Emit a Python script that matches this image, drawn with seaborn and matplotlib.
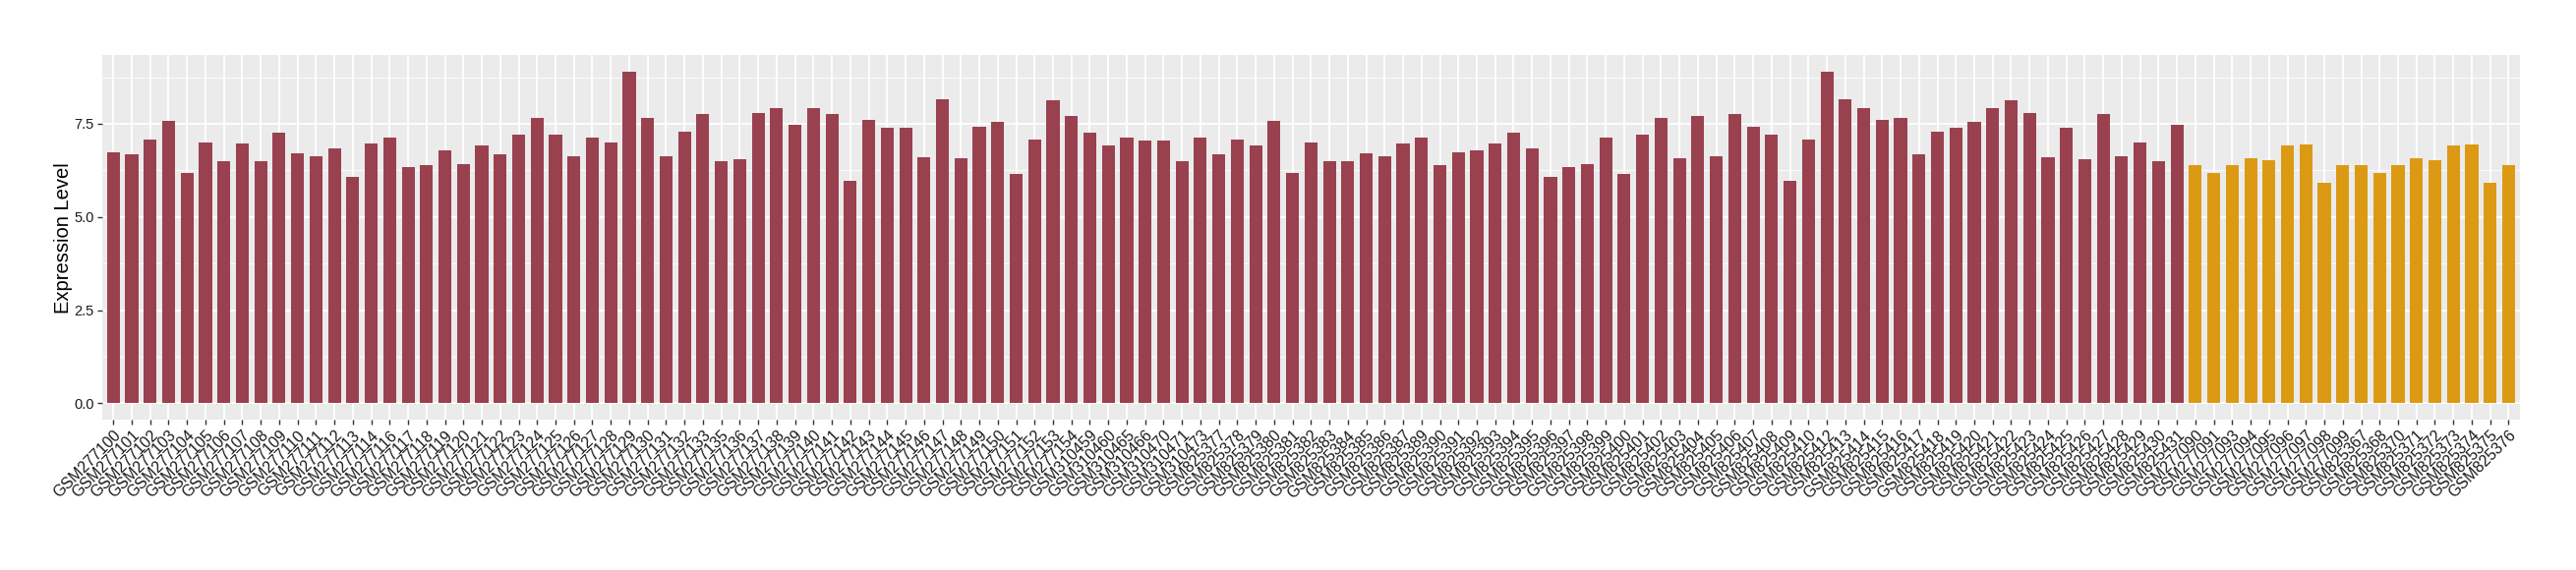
import pandas as pd
import matplotlib
matplotlib.use("Agg")
import matplotlib.pyplot as plt
from matplotlib.ticker import MultipleLocator, FormatStrFormatter
import seaborn as sns

# sample ids, in plotting order
samples = [
    "GSM277100", "GSM277101", "GSM277102", "GSM277103", "GSM277104", "GSM277105",
    "GSM277106", "GSM277107", "GSM277108", "GSM277109", "GSM277110", "GSM277111",
    "GSM277112", "GSM277113", "GSM277114", "GSM277116", "GSM277117", "GSM277118",
    "GSM277119", "GSM277120", "GSM277121", "GSM277122", "GSM277123", "GSM277124",
    "GSM277125", "GSM277126", "GSM277127", "GSM277128", "GSM277129", "GSM277130",
    "GSM277131", "GSM277132", "GSM277133", "GSM277135", "GSM277136", "GSM277137",
    "GSM277138", "GSM277139", "GSM277140", "GSM277141", "GSM277142", "GSM277143",
    "GSM277144", "GSM277145", "GSM277146", "GSM277147", "GSM277148", "GSM277149",
    "GSM277150", "GSM277151", "GSM277152", "GSM277153", "GSM277154", "GSM310459",
    "GSM310460", "GSM310465", "GSM310466", "GSM310470", "GSM310471", "GSM310473",
    "GSM825377", "GSM825378", "GSM825379", "GSM825380", "GSM825381", "GSM825382",
    "GSM825383", "GSM825384", "GSM825385", "GSM825386", "GSM825387", "GSM825389",
    "GSM825390", "GSM825391", "GSM825392", "GSM825393", "GSM825394", "GSM825395",
    "GSM825396", "GSM825397", "GSM825398", "GSM825399", "GSM825400", "GSM825401",
    "GSM825402", "GSM825403", "GSM825404", "GSM825405", "GSM825406", "GSM825407",
    "GSM825408", "GSM825409", "GSM825410", "GSM825412", "GSM825413", "GSM825414",
    "GSM825415", "GSM825416", "GSM825417", "GSM825418", "GSM825419", "GSM825420",
    "GSM825421", "GSM825422", "GSM825423", "GSM825424", "GSM825425", "GSM825426",
    "GSM825427", "GSM825428", "GSM825429", "GSM825430", "GSM825431",
    # second group
    "GSM277090", "GSM277091", "GSM277093", "GSM277094", "GSM277095", "GSM277096",
    "GSM277097", "GSM277098", "GSM277099", "GSM825367", "GSM825368", "GSM825370",
    "GSM825371", "GSM825372", "GSM825373", "GSM825374", "GSM825375", "GSM825376",
]

expression = [
    6.73, 6.68, 7.09, 7.57, 6.17, 7.01, 6.50, 6.97, 6.50, 7.25, 6.71, 6.63,
    6.83, 6.07, 6.97, 7.14, 6.35, 6.40, 6.78, 6.43, 6.91, 6.68, 7.22, 7.65,
    7.22, 6.63, 7.14, 7.01, 8.90, 7.65, 6.63, 7.29, 7.76, 6.50, 6.55, 7.78,
    7.93, 7.48, 7.93, 7.76, 5.96, 7.60, 7.40, 7.40, 6.61, 8.16, 6.58, 7.42,
    7.55, 6.15, 7.09, 8.14, 7.70, 7.25, 6.91, 7.12, 7.04, 7.04, 6.50, 7.12,
    6.68, 7.09, 6.91, 7.57, 6.17, 7.01, 6.50, 6.50, 6.71, 6.63, 6.97, 7.14,
    6.40, 6.73, 6.78, 6.97, 7.25, 6.83, 6.07, 6.35, 6.43, 7.14, 6.15, 7.22,
    7.65, 6.58, 7.70, 6.63, 7.76, 7.42, 7.22, 5.96, 7.09, 8.90, 8.16, 7.93,
    7.60, 7.65, 6.68, 7.29, 7.40, 7.55, 7.93, 8.14, 7.78, 6.61, 7.40, 6.55,
    7.76, 6.63, 7.01, 6.50, 7.48,
    6.40, 6.17, 6.38, 6.58, 6.53, 6.91, 6.94, 5.92, 6.38, 6.40, 6.17, 6.38,
    6.58, 6.53, 6.91, 6.94, 5.92, 6.38,
]

n_first = 113
groups = ["group1"] * n_first + ["group2"] * (len(samples) - n_first)
group_colors = {"group1": "#9A4150", "group2": "#DC9A14"}

df = pd.DataFrame({"sample": samples, "expr": expression, "group": groups})
df["sample"] = pd.Categorical(df["sample"], categories=samples, ordered=True)

fig = plt.figure(figsize=(26.2, 5.8), dpi=100)
ax = fig.add_axes([104 / 2620, 1 - 427.3 / 580, (2562.7 - 104) / 2620, (427.3 - 56) / 580])

sns.barplot(data=df, x="sample", y="expr", hue="group", palette=group_colors,
            width=0.7, dodge=False, saturation=1, legend=False, ax=ax)

# ggplot-like grey panel
ax.set_facecolor("#EBEBEB")
for s in ax.spines.values():
    s.set_visible(False)
ax.set_axisbelow(True)
ax.yaxis.set_major_locator(MultipleLocator(2.5))
ax.yaxis.set_minor_locator(MultipleLocator(1.25))
ax.yaxis.set_major_formatter(FormatStrFormatter("%.1f"))
ax.grid(which="major", color="white", linewidth=1.3)
ax.grid(which="minor", axis="y", color="white", linewidth=0.6)
ax.set_ylim(-0.445, 9.345)
ax.set_xlim(-0.6, len(samples) - 0.4)

ax.tick_params(axis="both", which="major", length=3.8, width=1, color="#333333",
               labelcolor="#1A1A1A", labelsize=10.5, pad=2)
ax.tick_params(axis="y", which="minor", length=0)
ax.set_xticks(range(len(samples)))
ax.set_xticklabels(samples, rotation=45, ha="right", va="top", rotation_mode="anchor",
                   fontsize=11.5, family="Liberation Sans")
for lab in ax.get_yticklabels():
    lab.set_family("Liberation Sans")

ax.set_xlabel("")
ax.set_ylabel("Expression Level", fontsize=14.5, family="Liberation Sans", labelpad=1)

fig.savefig("out.png", dpi=100)
